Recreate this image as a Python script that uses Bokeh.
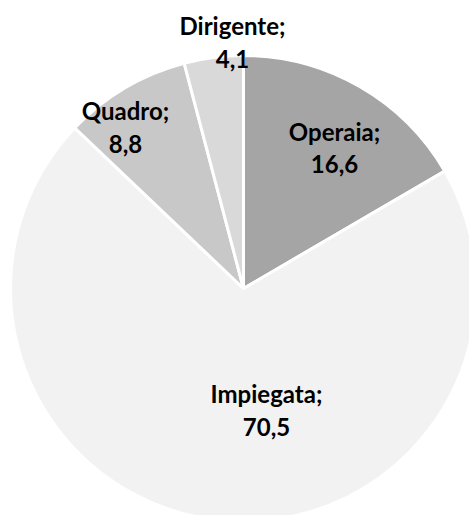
import numpy as np
from bokeh.plotting import figure
from bokeh.models import Range1d, ColumnDataSource
from bokeh.core.properties import value
from bokeh.embed import file_html
from bokeh.resources import INLINE

categories = ["Operaia", "Impiegata", "Quadro", "Dirigente"]
values = [16.6, 70.5, 8.8, 4.1]
colors = ["#a5a5a5", "#f2f2f2", "#c8c8c8", "#d9d9d9"]

# label anchor positions (layout, in figure pixels)
name_x = [334, 266, 125, 232]
name_y = [384, 122, 405, 490]
val_dy = [32, 33, 33, 33]

W, H = 469, 515
cx, cy, r = 243, 227, 233

vals = np.array(values)
frac = vals / vals.sum()
cum = np.concatenate([[0], np.cumsum(frac)])
start = np.pi / 2 - cum[:-1] * 2 * np.pi
end = np.pi / 2 - cum[1:] * 2 * np.pi

src = ColumnDataSource(dict(
    x=[cx] * len(values), y=[cy] * len(values),
    start=start, end=end, color=colors, cat=categories,
))

p = figure(width=W, height=H, output_backend="svg", toolbar_location=None,
           x_range=Range1d(0, W), y_range=Range1d(0, H), min_border=0)
p.axis.visible = False
p.grid.visible = False
p.outline_line_color = None
p.background_fill_color = "white"

p.wedge(x="x", y="y", radius=r, start_angle="start", end_angle="end",
        direction="clock", fill_color="color", line_color="white",
        line_width=3, source=src)

names = [c + ";" for c in categories]
vals_txt = [f"{v:.1f}".replace(".", ",") for v in values]
lsrc = ColumnDataSource(dict(
    x=name_x, y=name_y, name=names,
    vy=[y - d for y, d in zip(name_y, val_dy)], val=vals_txt,
))
common = dict(text_font=value("Lato"), text_font_style="bold",
              text_font_size="24px", text_color="#000000",
              text_align="center", text_baseline="alphabetic", source=lsrc)
p.text(x="x", y="y", text="name", **common)
p.text(x="x", y="vy", text="val", **common)

open("out.html", "w").write(file_html(p, INLINE))
